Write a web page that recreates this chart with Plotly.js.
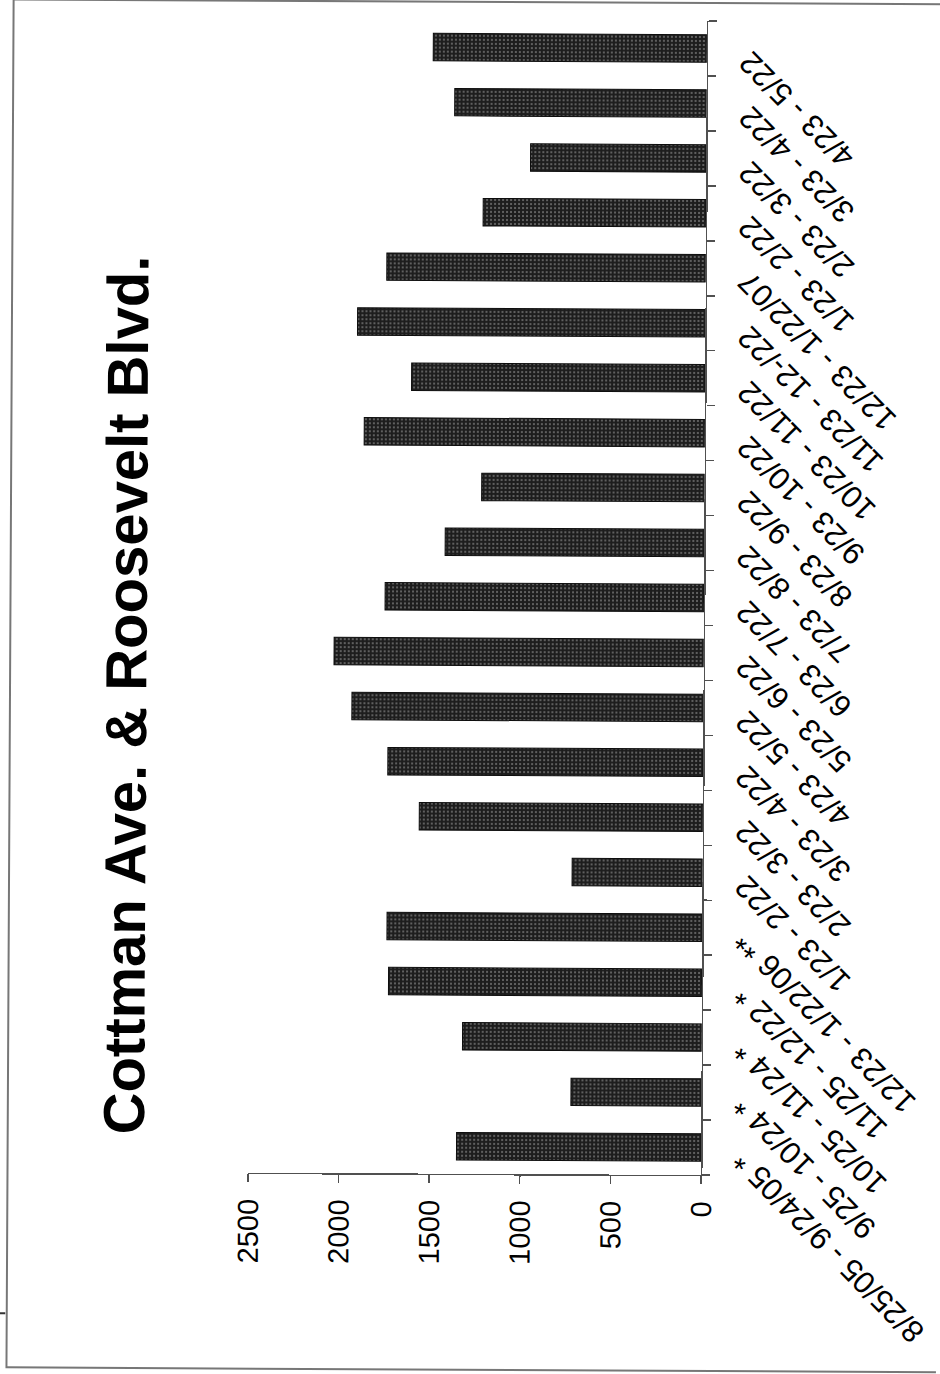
<!DOCTYPE html>
<html>
<head>
<meta charset="utf-8">
<script src="https://cdn.plot.ly/plotly-3.0.1.min.js"></script>
<style>
  html, body { margin: 0; padding: 0; background: #fff; overflow: hidden; width: 940px; height: 1374px; }
  /* The chart is laid out landscape and turned a quarter turn counter-clockwise onto the portrait page */
  #chart {
    position: absolute; left: 0; top: 0; width: 1374px; height: 940px;
    transform-origin: 0 0;
    transform: translate(704px, 598px) rotate(0.3deg) translate(-704px, -598px) translate(0, 1374px) rotate(-90deg);
  }
</style>
</head>
<body>
<div id="chart"></div>
<script>
// Monthly counts, Cottman Ave. & Roosevelt Blvd.
const periods = [
  "8/25/05 - 9/24/05 *", "9/25 - 10/24 *", "10/25 - 11/24 *", "11/25 - 12/22 *",
  "12/23 - 1/22/06 **", "1/23 - 2/22", "2/23 - 3/22", "3/23 - 4/22", "4/23 - 5/22",
  "5/23 - 6/22", "6/23 - 7/22", "7/23 - 8/22", "8/23 - 9/22", "9/23 - 10/22",
  "10/23 - 11/22", "11/23 - 12-/22", "12/23 - 1/22/07", "1/23 - 2/22", "2/23 - 3/22",
  "3/23 - 4/22", "4/23 - 5/22"
];
const counts = [
  1350, 720, 1320, 1730, 1740, 720, 1565, 1740, 1940,
  2040, 1760, 1430, 1230, 1880, 1620, 1920, 1760, 1230, 970,
  1390, 1510
];
const valueTicks = [0, 500, 1000, 1500, 2000, 2500];
const chartTitle = "Cottman Ave. & Roosevelt Blvd.";

// Layout geometry (landscape frame, pixels)
const W = 1374, H = 940;
const M = { l: 199, r: 21, t: 251, b: 236 };
const plotW = W - M.l - M.r, plotH = H - M.t - M.b;
const px2x = u => (u - M.l) / plotW;
const px2y = v => (H - M.b - v) / plotH;

const slots = periods.map((_, i) => i);
const boundaries = periods.map((_, i) => i - 0.5).concat([periods.length - 0.5]);

const font = "Liberation Sans, Arial, sans-serif";
const axisGrey = "#505050";

const traces = [
  {
    type: "bar",
    x: slots,
    y: counts,
    width: 0.5,
    marker: {
      color: "#1d1d1d",
      line: { color: "#0d0d0d", width: 1 },
      pattern: { shape: ".", fgcolor: "#6e6e6e", bgcolor: "#1d1d1d", size: 4, solidity: 0.24 }
    },
    hoverinfo: "skip",
    showlegend: false
  },
  {
    // carries the period labels on the overlaid axis
    type: "scatter",
    mode: "none",
    x: slots,
    y: counts,
    xaxis: "x2",
    hoverinfo: "skip",
    showlegend: false
  }
];

const layout = {
  width: W,
  height: H,
  margin: M,
  paper_bgcolor: "rgba(0,0,0,0)",
  plot_bgcolor: "rgba(0,0,0,0)",
  showlegend: false,
  title: {
    text: chartTitle,
    font: { family: font, size: 58, color: "#000", weight: "bold" },
    xref: "container", x: 676 / W, xanchor: "center",
    yref: "container", y: 1 - 126.5 / H, yanchor: "middle"
  },
  xaxis: {
    range: [-0.5, periods.length - 0.5],
    tickmode: "array",
    tickvals: boundaries,
    ticktext: boundaries.map(() => ""),
    ticks: "outside", ticklen: 8, tickwidth: 1.5, tickcolor: axisGrey,
    showline: true, linecolor: axisGrey, linewidth: 1.5,
    showgrid: false, zeroline: false, fixedrange: true
  },
  xaxis2: {
    overlaying: "x",
    matches: "x",
    anchor: "y",
    side: "bottom",
    tickmode: "array",
    tickvals: slots,
    ticktext: periods,
    tickangle: -45,
    ticks: "",
    ticklabelstandoff: 18,
    ticklabelshift: -12,
    showline: false, showgrid: false, zeroline: false,
    tickfont: { family: font, size: 31, color: "#000" }
  },
  yaxis: {
    range: [0, 2500],
    tickmode: "array",
    tickvals: valueTicks,
    ticktext: valueTicks.map(String),
    ticks: "outside", ticklen: 8, tickwidth: 1.5, tickcolor: axisGrey,
    ticklabelstandoff: 11,
    showline: true, linecolor: axisGrey, linewidth: 1.5,
    showgrid: false, zeroline: false, fixedrange: true,
    tickfont: { family: font, size: 29, color: "#000" }
  },
  shapes: [
    {
      // outer chart border
      type: "rect", xref: "paper", yref: "paper", layer: "below",
      x0: px2x(3), x1: px2x(1371), y0: px2y(990), y1: px2y(10.5),
      line: { color: "#777", width: 2 }, fillcolor: "rgba(0,0,0,0)"
    },
    {
      type: "line", xref: "paper", yref: "paper",
      x0: px2x(57), x1: px2x(57), y0: px2y(1), y1: px2y(9),
      line: { color: "#333", width: 2 }
    }
  ]
};

Plotly.newPlot("chart", traces, layout, { staticPlot: true, displayModeBar: false });
</script>
</body>
</html>
